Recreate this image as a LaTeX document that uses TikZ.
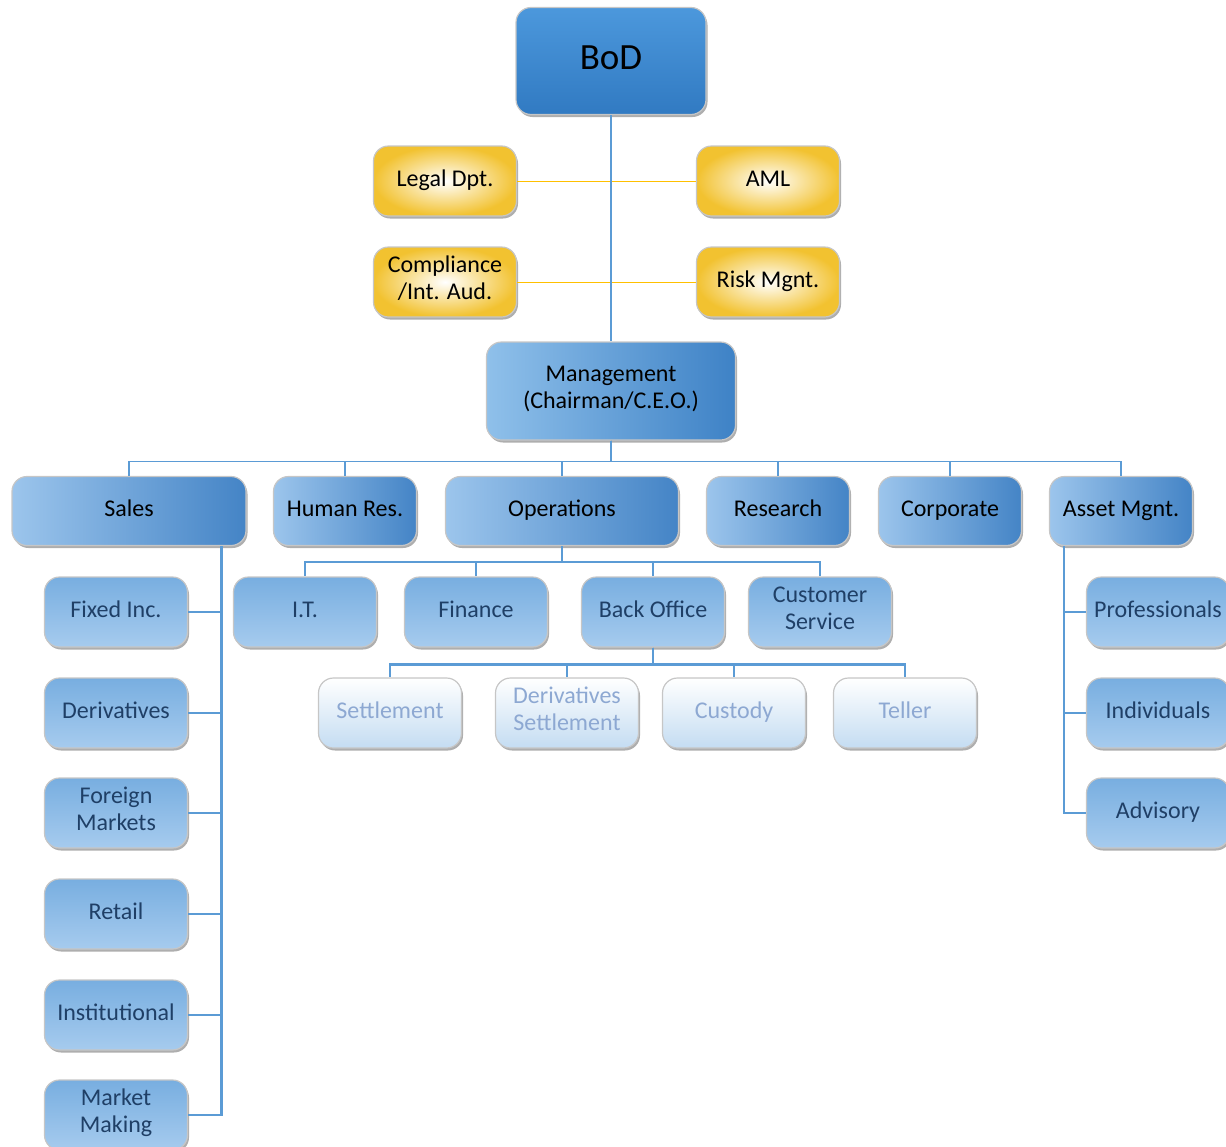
\documentclass[tikz,border=0pt]{standalone}
\usepackage{fontspec}
\setmainfont{Carlito}
\usetikzlibrary{shadows}
\definecolor{connblue}{HTML}{5B9BD5}
\definecolor{connyel}{HTML}{FFC000}
\definecolor{navy}{HTML}{1F3F66}
\definecolor{paletext}{HTML}{8DA8D2}
\definecolor{bodtop}{HTML}{4C98DC}
\definecolor{bodbot}{HTML}{317AC2}
\definecolor{mgl}{HTML}{8FC0EA}
\definecolor{mgr}{HTML}{3E82C6}
\definecolor{yelout}{HTML}{F2C230}
\definecolor{ltwol}{HTML}{9CC5EC}
\definecolor{ltwor}{HTML}{4484C6}
\definecolor{lthtop}{HTML}{78AEE0}
\definecolor{lthmid}{HTML}{DCEBF9}
\definecolor{lthbot}{HTML}{A6CBEE}
\definecolor{lfmid}{HTML}{EDF4FB}
\definecolor{lfbot}{HTML}{C4DCF2}
\begin{document}
\begin{tikzpicture}[x=1pt,y=-1pt,
  base/.style={draw=gray!45, line width=1.2pt, align=center,
    rounded corners=15pt,
    inner sep=2pt, font=\fontsize{24}{27}\selectfont,
    execute at begin node=\strut, execute at end node=\strut,
    drop shadow={shadow xshift=1.5pt, shadow yshift=-2.5pt, opacity=0.45, fill=black!70}},
  bigbox/.style={base, top color=bodtop, bottom color=bodbot,
    minimum width=190pt, minimum height=107pt, font=\fontsize{37}{40}\selectfont},
  mgbox/.style={base, left color=mgl, right color=mgr,
    minimum width=249pt, minimum height=98pt},
  yelbox/.style={base, inner color=white, outer color=yelout,
    minimum width=143pt, minimum height=70pt},
  l2box/.style={base, left color=ltwol, right color=ltwor,
    minimum height=69pt},
  l3box/.style={base, top color=lthtop, middle color=lthmid, bottom color=lthbot,
    minimum width=143pt, minimum height=70pt, text=navy},
  l4box/.style={base, top color=white, middle color=lfmid, bottom color=lfbot,
    minimum width=143pt, minimum height=70pt, text=paletext},
  conn/.style={draw=connblue, line width=2.4pt},
  thin/.style={draw=connblue, line width=1.6pt},
  yconn/.style={draw=connyel, line width=1pt},
]
\useasboundingbox (0,0) rectangle (1226,1146);

% top
\node[bigbox] (bod) at (611,61) {BoD};
\node[yelbox] (legal) at (445,181) {Legal Dpt.};
\node[yelbox] (aml) at (768,181) {AML};
\node[yelbox] (comp) at (445,282) {Compliance\\/Int. Aud.};
\node[yelbox] (risk) at (768,282) {Risk Mgnt.};
\node[mgbox] (mgmt) at (611,391) {Management\\(Chairman/C.E.O.)};

% level 2
\node[l2box, minimum width=234pt] (sales) at (129,511) {Sales};
\node[l2box, minimum width=143pt] (hr) at (345,511) {Human Res.};
\node[l2box, minimum width=233pt] (ops) at (562,511) {Operations};
\node[l2box, minimum width=143pt] (res) at (778,511) {Research};
\node[l2box, minimum width=143pt] (corp) at (950,511) {Corporate};
\node[l2box, minimum width=143pt] (asset) at (1121,511) {Asset Mgnt.};

% sales children
\node[l3box] (fixed) at (116,612) {Fixed Inc.};
\node[l3box] (deriv) at (116,713) {Derivatives};
\node[l3box] (forex) at (116,813) {Foreign\\Markets};
\node[l3box] (retail) at (116,914) {Retail};
\node[l3box] (inst) at (116,1015) {Institutional};
\node[l3box] (mm) at (116,1115) {Market\\Making};

% operations children
\node[l3box] (it) at (305,612) {I.T.};
\node[l3box] (fin) at (476,612) {Finance};
\node[l3box] (bo) at (653,612) {Back Office};
\node[l3box] (cs) at (820,612) {Customer\\Service};

% back office children
\node[l4box] (settle) at (390,713) {Settlement};
\node[l4box] (dset) at (567,713) {Derivatives\\Settlement};
\node[l4box] (cust) at (734,713) {Custody};
\node[l4box] (teller) at (905,713) {Teller};

% asset children
\node[l3box] (prof) at (1158,612) {Professionals};
\node[l3box] (indiv) at (1158,713) {Individuals};
\node[l3box] (adv) at (1158,813) {Advisory};

% connectors
\draw[yconn] (legal.east) -- (aml.west);
\draw[yconn] (comp.east) -- (risk.west);
\draw[conn] (bod.south) -- (mgmt.north);

\foreach \n in {sales,hr,ops,res,corp,asset}
  \draw[thin] (mgmt.south) -- ++(0,21) -| (\n.north);

\foreach \n in {fixed,deriv,forex,retail,inst,mm}
  \draw[conn] ([xshift=-25pt]sales.south east) |- (\n.east);

\foreach \n in {it,fin,bo,cs}
  \draw[conn] (ops.south) -- ++(0,16) -| (\n.north);

\foreach \n in {settle,dset,cust,teller}
  \draw[conn] (bo.south) -- ++(0,17) -| (\n.north);

\foreach \n in {prof,indiv,adv}
  \draw[conn] ([xshift=15pt]asset.south west) |- (\n.west);
\end{tikzpicture}
\end{document}
